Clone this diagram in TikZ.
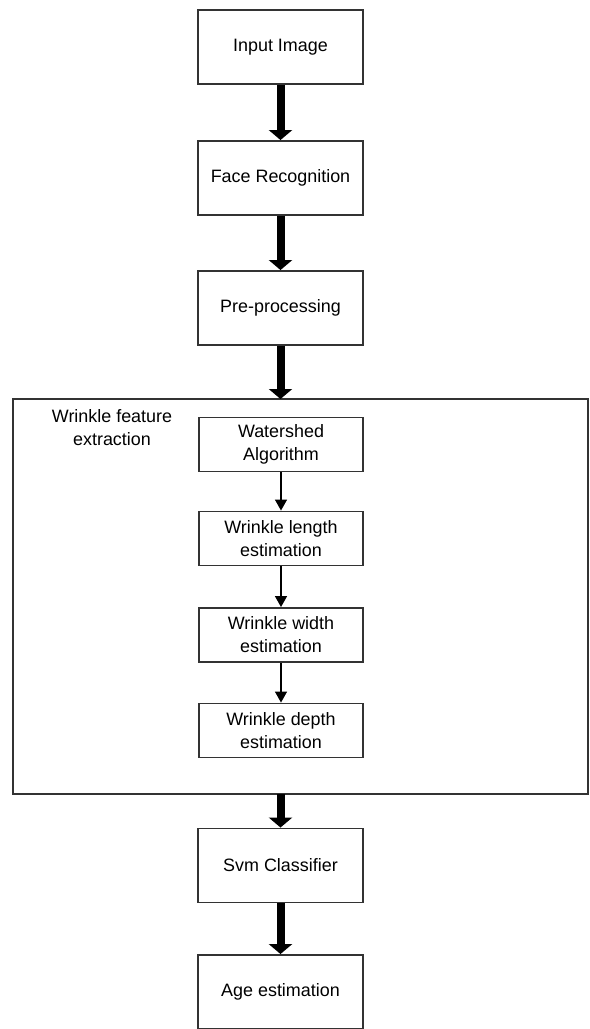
\documentclass[tikz,border=0pt]{standalone}
\usepackage{fontspec}
\setmainfont{Liberation Sans}
\usetikzlibrary{arrows.meta,positioning,calc}

\begin{document}
\begin{tikzpicture}[
    x=0.02cm, y=-0.02cm,
    stage/.style={rectangle, draw=black!80, line width=1.1pt,
                minimum width=3.3cm, minimum height=1.48cm,
                inner sep=0pt, font=\fontsize{10.2}{13.1}\selectfont},
    sub/.style={rectangle, draw=black!80, line width=1.1pt,
                minimum width=3.28cm, minimum height=1.08cm, align=center,
                inner sep=0pt, font=\fontsize{10.2}{13.1}\selectfont},
    group/.style={rectangle, draw=black!80, line width=1.1pt},
    bigarr/.style={-{Triangle[length=0.2cm, width=0.46cm]}, line width=0.16cm},
    arr/.style={-{Triangle[length=0.22cm, width=0.24cm]}, line width=0.8pt},
]
\useasboundingbox (0,0) rectangle (590,1029);

% --- Wrinkle feature extraction block ---
\draw[group] (13,399) rectangle (588,794);
\node[align=center, font=\fontsize{10.2}{13.1}\selectfont] (grp) at (112,428)
  {Wrinkle feature\\extraction};

% --- Main stages ---
\node[stage] (input) at (280.5,47) {Input Image};
\node[stage] (face) at (280.5,178) {Face Recognition};
\node[stage] (pre) at (280.5,308) {Pre-processing};
\coordinate (gtop) at (280.5,399);
\coordinate (gbot) at (280.5,794);
\node[stage] (svm) at (280.5,865.5) {Svm Classifier};
\node[stage] (age) at (280.5,992) {Age estimation};

% --- Sub stages ---
\node[sub] (ws) at (281,444.5) {Watershed\\Algorithm};
\node[sub] (len) at (281,538.5) {Wrinkle length\\estimation};
\node[sub] (wid) at (281,635) {Wrinkle width\\estimation};
\node[sub] (dep) at (281,730.5) {Wrinkle depth\\estimation};

% --- Arrows ---
\draw[bigarr] (input.south) -- (face.north);
\draw[bigarr] (face.south) -- (pre.north);
\draw[bigarr] (pre.south) -- (gtop);
\draw[bigarr] (gbot) -- (svm.north);
\draw[bigarr] (svm.south) -- (age.north);
\draw[arr] (ws.south) -- (len.north);
\draw[arr] (len.south) -- (wid.north);
\draw[arr] (wid.south) -- (dep.north);

\end{tikzpicture}
\end{document}
